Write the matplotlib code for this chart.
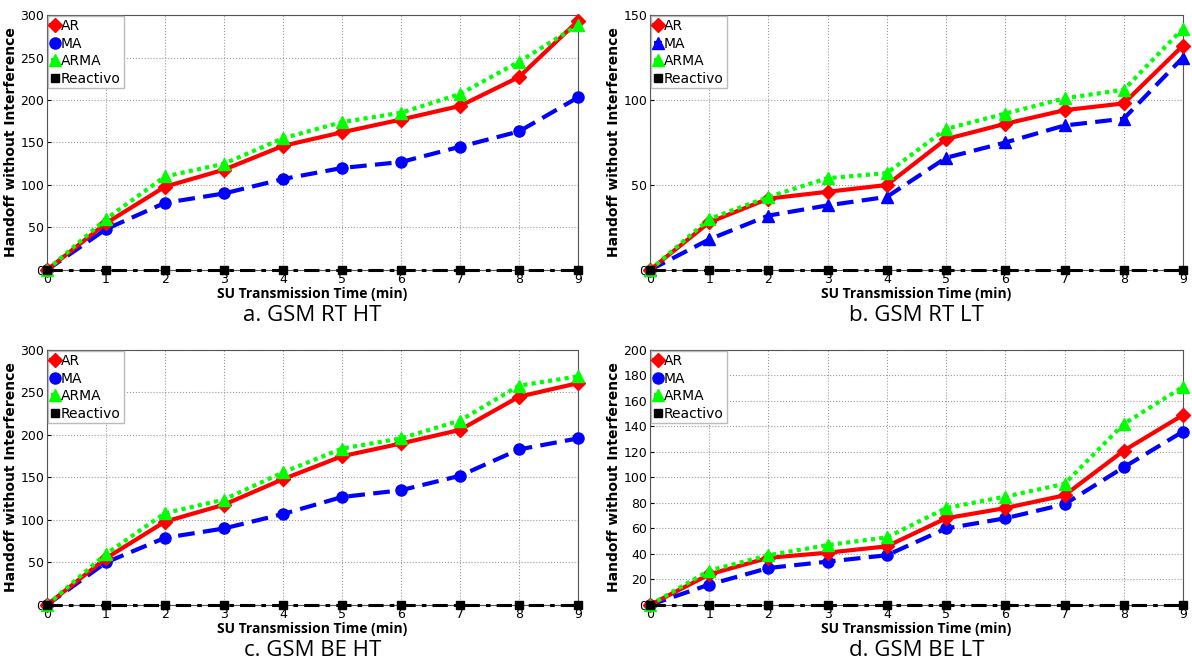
import numpy as np
import matplotlib
matplotlib.use('Agg')
import matplotlib.pyplot as plt

# Data
x = list(range(10))

# a. GSM RT HT
a_ar = [0, 55, 98, 118, 146, 162, 177, 193, 227, 293]
a_ma = [0, 48, 79, 90, 107, 120, 127, 145, 163, 203]
a_arma = [0, 60, 110, 125, 155, 174, 185, 207, 245, 288]

# b. GSM RT LT
b_ar = [0, 28, 42, 46, 50, 77, 86, 94, 98, 132]
b_ma = [0, 18, 32, 38, 43, 66, 75, 85, 89, 125]
b_arma = [0, 30, 43, 54, 57, 83, 92, 101, 106, 142]

# c. GSM BE HT
c_ar = [0, 55, 98, 118, 148, 175, 190, 206, 245, 261]
c_ma = [0, 50, 79, 90, 107, 127, 135, 152, 183, 196]
c_arma = [0, 60, 108, 124, 156, 184, 196, 217, 258, 269]

# d. GSM BE LT
d_ar = [0, 24, 37, 41, 46, 68, 76, 86, 121, 149]
d_ma = [0, 16, 29, 34, 39, 60, 68, 79, 108, 136]
d_arma = [0, 27, 39, 47, 53, 76, 85, 95, 142, 171]

reactivo = [0] * 10

panels = [
    ('a. GSM RT HT', a_ar, a_ma, a_arma, 'o', 300, 50),
    ('b. GSM RT LT', b_ar, b_ma, b_arma, '^', 150, 50),
    ('c. GSM BE HT', c_ar, c_ma, c_arma, 'o', 300, 50),
    ('d. GSM BE LT', d_ar, d_ma, d_arma, 'o', 200, 20),
]

positions = [
    [0.0394, 0.5934, 0.4455, 0.384],
    [0.5453, 0.5934, 0.4471, 0.384],
    [0.0394, 0.0889, 0.4455, 0.384],
    [0.5453, 0.0889, 0.4471, 0.384],
]

fig = plt.figure(figsize=(11.92, 6.64), dpi=100)

for (cap, ar, ma, arma, ma_marker, ymax, ystep), pos in zip(panels, positions):
    ax = fig.add_axes(pos)
    ax.plot(x, ar, color='red', lw=3, ls='-', marker='D', ms=7, label='AR', clip_on=False, zorder=4)
    ax.plot(x, ma, color='blue', lw=3, ls=(0, (4, 2)), marker=ma_marker, ms=8, label='MA', clip_on=False, zorder=3)
    ax.plot(x, arma, color='#00ff00', lw=3, ls=(0, (1, 1)), marker='^', ms=9, label='ARMA', clip_on=False, zorder=5)
    ax.plot(x, reactivo, color='black', lw=2.2, ls=(0, (5, 2, 1.5, 2)), marker='s', ms=6, label='Reactivo', clip_on=False, zorder=6)

    ax.set_xlim(0, 9)
    ax.set_ylim(0, ymax)
    ax.set_xticks(x)
    ax.set_yticks(np.arange(0, ymax + 1, ystep))
    ax.tick_params(direction='in', labelsize=9, length=3, pad=2)
    ax.grid(True, ls=':', color='#999999', lw=0.8)
    for s in ax.spines.values():
        s.set_color('#555555')

    ax.set_xlabel('SU Transmission Time (min)', fontsize=10, fontweight='bold', labelpad=1, family='Open Sans')
    ax.set_ylabel('Handoff without Interference', fontsize=10, fontweight='bold', labelpad=2)
    ax.text(0.5, -0.178, cap, transform=ax.transAxes, ha='center', va='center', fontsize=16, family='Open Sans')

    leg = ax.legend(loc='upper left', fontsize=10, handlelength=0.6, handletextpad=0.1,
                    borderpad=0.2, labelspacing=0.25, borderaxespad=0.1, fancybox=False,
                    framealpha=1, edgecolor='#bbbbbb')

fig.savefig('out.png', dpi=100)
